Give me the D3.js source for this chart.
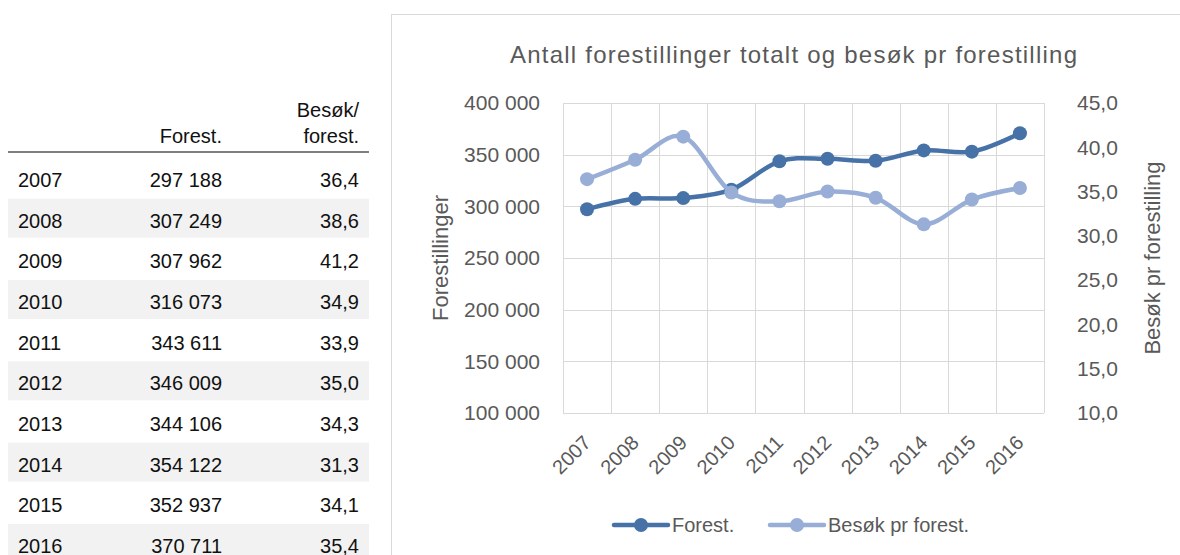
<!DOCTYPE html>
<html>
<head>
<meta charset="utf-8">
<script src="https://cdn.jsdelivr.net/npm/d3@7/dist/d3.min.js"></script>
<style>
    body { margin: 0; background: #fff; }
    svg { display: block; font-family: "Liberation Sans", Arial, sans-serif; }
</style>
</head>
<body>
<svg id="chart" width="1180" height="555"></svg>
<script>
var years = ["2007", "2008", "2009", "2010", "2011", "2012", "2013", "2014", "2015", "2016"];
var forest = [297188, 307249, 307962, 316073, 343611, 346009, 344106, 354122, 352937, 370711];
var besok = [36.4, 38.6, 41.2, 34.9, 33.9, 35.0, 34.3, 31.3, 34.1, 35.4];
var leftTicks = [100000, 150000, 200000, 250000, 300000, 350000, 400000];
var rightTicks = [10, 15, 20, 25, 30, 35, 40, 45];
var seriesNames = ["Forest.", "Besøk pr forest."];

var DARK = "#4672a8";
var LIGHT = "#98aed6";
var GREY_TEXT = "#595959";

var locale = d3.formatLocale({ decimal: ",", thousands: " ", grouping: [3], currency: ["", ""] });
var fmtInt = locale.format(",d");
var fmtDec = locale.format(".1f");

var svg = d3.select("#chart");

drawTable();
drawChart();

function drawTable() {
    var g = svg.append("g").attr("class", "table");
    var rowY = d3.scaleLinear().domain([0, years.length - 1]).range([180, 546]);

    // striped rows
    g.selectAll("rect.band").data(years).enter()
        .filter(function(d, i) { return i % 2 === 1; })
        .append("rect")
        .attr("class", "band")
        .attr("x", 8)
        .attr("width", 361)
        .attr("y", function(d) { return rowY(years.indexOf(d)) - 22; })
        .attr("height", 39)
        .attr("fill", "#f2f2f2");

    g.append("line")
        .attr("x1", 8).attr("x2", 369)
        .attr("y1", 152).attr("y2", 152)
        .attr("stroke", "#808080").attr("stroke-width", 2);

    var head = g.append("g").attr("font-size", 20).attr("fill", "#111").attr("text-anchor", "end");
    head.append("text").attr("x", 222).attr("y", 143).text("Forest.");
    head.append("text").attr("x", 359).attr("y", 117).text("Besøk/");
    head.append("text").attr("x", 359).attr("y", 143).text("forest.");

    var rows = g.selectAll("g.row").data(years).enter().append("g")
        .attr("class", "row")
        .attr("font-size", 20)
        .attr("fill", "#111")
        .attr("transform", function(d, i) { return "translate(0," + (rowY(i) + 7) + ")"; });
    rows.append("text").attr("x", 18).text(function(d) { return d; });
    rows.append("text").attr("x", 222).attr("text-anchor", "end")
        .text(function(d, i) { return fmtInt(forest[i]); });
    rows.append("text").attr("x", 359).attr("text-anchor", "end")
        .text(function(d, i) { return fmtDec(besok[i]); });
}

function drawChart() {
    var left = 563, right = 1044, top = 103, bottom = 413;

    // chart box
    svg.append("rect")
        .attr("x", 391.5).attr("y", 14.5)
        .attr("width", 800).attr("height", 600)
        .attr("fill", "#fff").attr("stroke", "#d9d9d9");

    svg.append("text")
        .attr("x", 510).attr("y", 63)
        .attr("font-size", 24)
        .attr("textLength", 567)
        .attr("lengthAdjust", "spacing")
        .attr("fill", GREY_TEXT)
        .text("Antall forestillinger totalt og besøk pr forestilling");

    var x = d3.scaleBand().domain(years).range([left, right]);
    var yL = d3.scaleLinear().domain([100000, 400000]).range([bottom, top]);
    var yR = d3.scaleLinear().domain([10, 45]).range([bottom, top]);

    // gridlines
    var grid = svg.append("g").attr("stroke", "#d9d9d9").attr("stroke-width", 1);
    grid.selectAll("line.h").data(leftTicks).enter().append("line")
        .attr("x1", left).attr("x2", right)
        .attr("y1", function(d) { return Math.round(yL(d)) + 0.5; })
        .attr("y2", function(d) { return Math.round(yL(d)) + 0.5; });
    var bounds = years.map(function(d) { return x(d); }).concat([right]);
    grid.selectAll("line.v").data(bounds).enter().append("line")
        .attr("y1", top).attr("y2", bottom)
        .attr("x1", function(d) { return Math.round(d) + 0.5; })
        .attr("x2", function(d) { return Math.round(d) + 0.5; });

    // left axis
    var axL = svg.append("g")
        .attr("transform", "translate(" + (left - 23) + ",0)")
        .call(d3.axisLeft(yL).tickValues(leftTicks).tickSize(0).tickPadding(0).tickFormat(fmtInt));
    axL.select(".domain").remove();
    axL.selectAll("text").attr("font-size", 21).attr("fill", GREY_TEXT)
        .attr("font-family", "Liberation Sans, Arial, sans-serif");

    // right axis
    var axR = svg.append("g")
        .attr("transform", "translate(" + (right + 33) + ",0)")
        .call(d3.axisRight(yR).tickValues(rightTicks).tickSize(0).tickPadding(0).tickFormat(fmtDec));
    axR.select(".domain").remove();
    axR.selectAll("text").attr("font-size", 21).attr("fill", GREY_TEXT)
        .attr("font-family", "Liberation Sans, Arial, sans-serif");

    // x axis
    var axX = svg.append("g")
        .attr("transform", "translate(0," + bottom + ")")
        .call(d3.axisBottom(x).tickSize(0).tickPadding(0));
    axX.select(".domain").remove();
    axX.selectAll("text")
        .attr("font-size", 20).attr("fill", GREY_TEXT)
        .attr("font-family", "Liberation Sans, Arial, sans-serif")
        .attr("text-anchor", "end")
        .attr("dy", null)
        .attr("transform", "translate(5,31) rotate(-45)");

    // axis titles
    svg.append("text")
        .attr("transform", "translate(448,258) rotate(-90)")
        .attr("text-anchor", "middle").attr("font-size", 22).attr("fill", GREY_TEXT)
        .text("Forestillinger");
    svg.append("text")
        .attr("transform", "translate(1160,258) rotate(-90)")
        .attr("text-anchor", "middle").attr("font-size", 22).attr("fill", GREY_TEXT)
        .text("Besøk pr forestilling");

    var cx = function(i) { return x(years[i]) + x.bandwidth() / 2; };
    var lineL = d3.line().curve(d3.curveCardinal.tension(0))
        .x(function(d, i) { return cx(i); })
        .y(function(d) { return yL(d); });
    var lineR = d3.line().curve(d3.curveCardinal.tension(0))
        .x(function(d, i) { return cx(i); })
        .y(function(d) { return yR(d); });

    // secondary-axis series sits on top, like in the original
    drawSeries(forest, lineL, yL, DARK);
    drawSeries(besok, lineR, yR, LIGHT);

    function drawSeries(values, line, y, color) {
        svg.append("path").datum(values)
            .attr("d", line)
            .attr("fill", "none")
            .attr("stroke", color)
            .attr("stroke-width", 4.5)
            .attr("stroke-linecap", "round");
        svg.append("g").selectAll("circle").data(values).enter().append("circle")
            .attr("cx", function(d, i) { return cx(i); })
            .attr("cy", function(d) { return y(d); })
            .attr("r", 7)
            .attr("fill", color);
    }

    // legend
    var legend = svg.append("g").attr("class", "legend");
    var items = [
        { name: seriesNames[0], color: DARK, x: 614 },
        { name: seriesNames[1], color: LIGHT, x: 770 }
    ];
    var li = legend.selectAll("g").data(items).enter().append("g")
        .attr("transform", function(d) { return "translate(" + d.x + ",525)"; });
    li.append("line")
        .attr("x1", 0).attr("x2", 54)
        .attr("stroke", function(d) { return d.color; })
        .attr("stroke-width", 4.5).attr("stroke-linecap", "round");
    li.append("circle").attr("cx", 27).attr("r", 7)
        .attr("fill", function(d) { return d.color; });
    li.append("text").attr("x", 58).attr("y", 7)
        .attr("font-size", 20).attr("fill", GREY_TEXT)
        .text(function(d) { return d.name; });
}
</script>
</body>
</html>
